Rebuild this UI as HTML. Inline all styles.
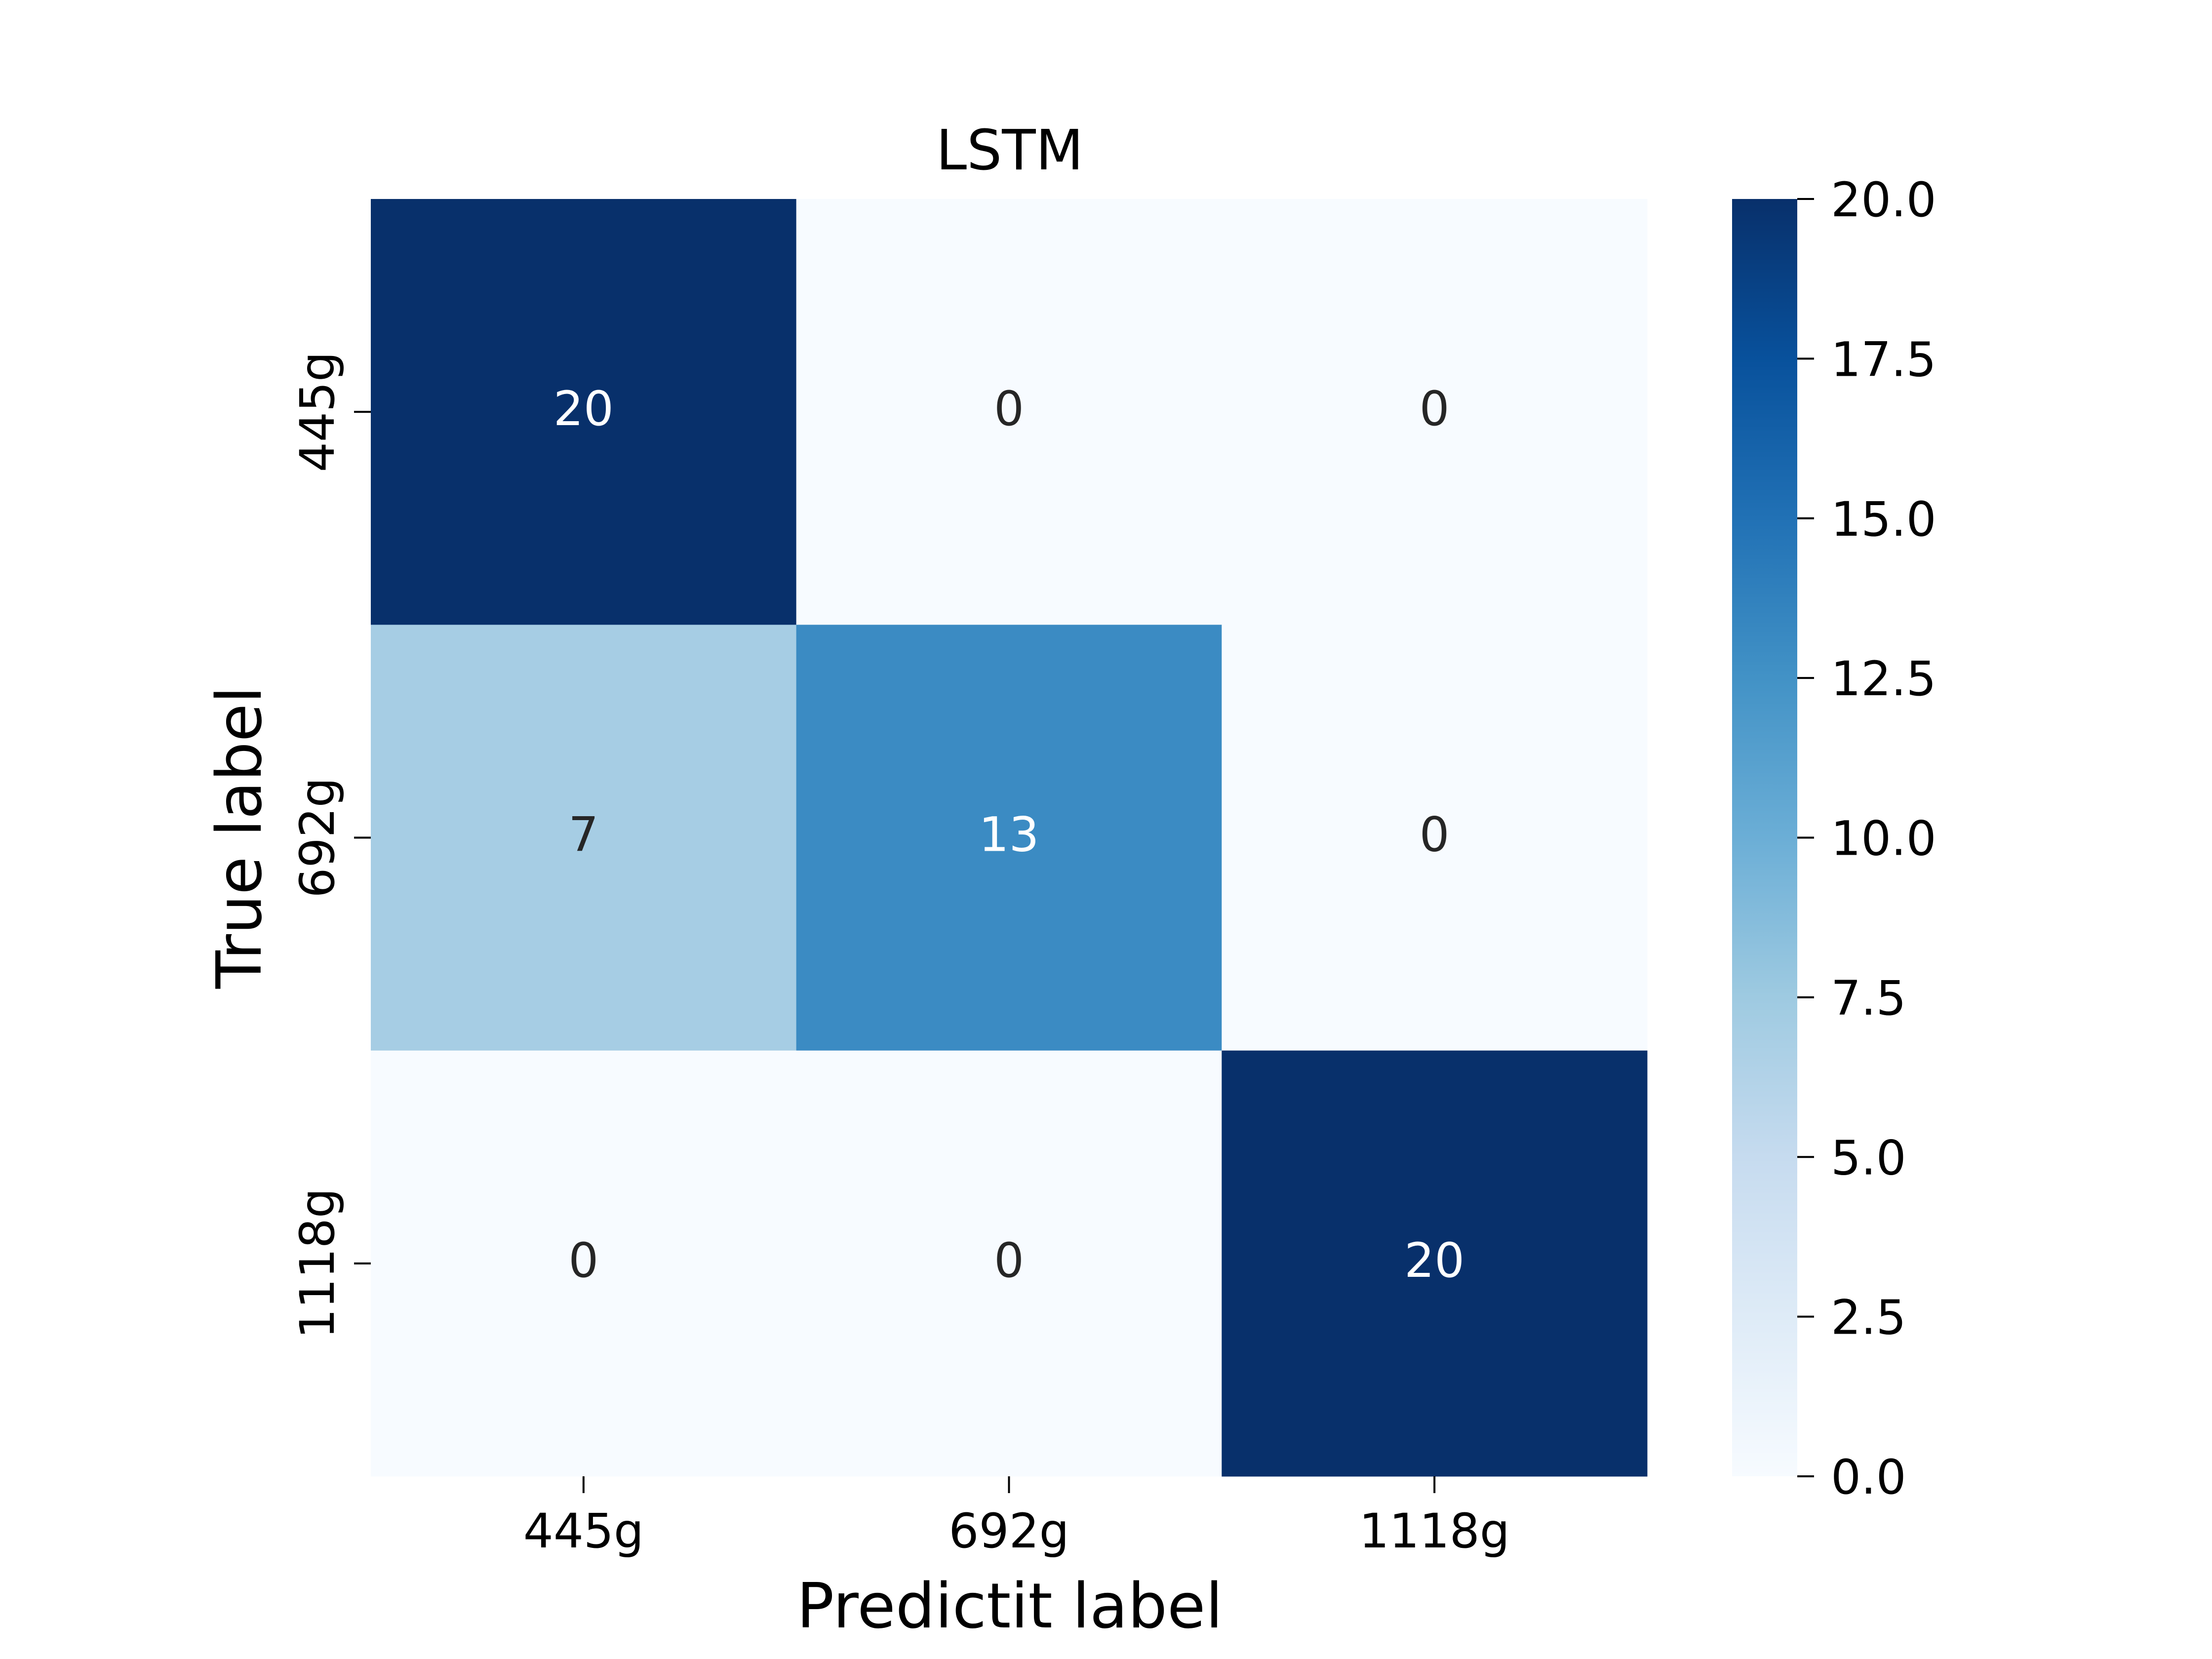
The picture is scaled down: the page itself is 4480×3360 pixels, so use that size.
<!DOCTYPE html>
<html><head><meta charset="utf-8"><style>
html,body{margin:0;padding:0;background:#fff;}
svg{display:block;font-family:"DejaVu Sans","Liberation Sans",sans-serif;}
</style></head><body>
<svg id="chart" width="4480" height="3360" viewBox="0 0 4480 3360" xmlns="http://www.w3.org/2000/svg">
<rect width="4480" height="3360" fill="#fff"/>
<defs><linearGradient id="cbg" x1="0" y1="1" x2="0" y2="0">
<stop offset="0" stop-color="#f7fbff"/><stop offset="0.125" stop-color="#deebf7"/><stop offset="0.25" stop-color="#c6dbef"/><stop offset="0.375" stop-color="#9ecae1"/><stop offset="0.5" stop-color="#6baed6"/><stop offset="0.625" stop-color="#4292c6"/><stop offset="0.75" stop-color="#2171b5"/><stop offset="0.875" stop-color="#08519c"/><stop offset="1" stop-color="#08306b"/></linearGradient></defs>
<g id="cells"></g>
<g id="axes"></g>
<rect x="3508" y="403" width="132" height="2587" fill="url(#cbg)"/>
<g id="cbar"></g>
<text x="2045" y="343" font-size="112" text-anchor="middle">LSTM</text>
<text x="2045" y="3296" font-size="126" text-anchor="middle">Predictit label</text>
<text transform="translate(528,1696) rotate(-90)" font-size="126" text-anchor="middle">True label</text>
</svg>
<script>
const categories = ["445g", "692g", "1118g"];
const row0 = [20, 0, 0];
const row1 = [7, 13, 0];
const row2 = [0, 0, 20];
const cbTicks = [0, 2.5, 5, 7.5, 10, 12.5, 15, 17.5, 20];
const cbTickLabels = ["0.0","2.5","5.0","7.5","10.0","12.5","15.0","17.5","20.0"];
const vmin = 0, vmax = 20;
const matrix = [row0, row1, row2];
const NS = "http://www.w3.org/2000/svg";
const L = 751, R = 3336, T = 403, B = 2990;
const cw = (R - L) / categories.length, ch = (B - T) / categories.length;
const xPos = i => L + i * cw, yPos = j => T + j * ch;
const stops = ["#f7fbff","#deebf7","#c6dbef","#9ecae1","#6baed6","#4292c6","#2171b5","#08519c","#08306b"].map(h=>[1,3,5].map(k=>parseInt(h.substr(k,2),16)));
function color(v){
  let t=(v-vmin)/(vmax-vmin)*(stops.length-1); t=Math.max(0,Math.min(stops.length-1,t));
  const i=Math.min(Math.floor(t),stops.length-2), f=t-i;
  const c=stops[i].map((a,k)=>Math.round(a+(stops[i+1][k]-a)*f));
  return {css:`rgb(${c[0]},${c[1]},${c[2]})`, lum:(0.299*c[0]+0.587*c[1]+0.114*c[2])/255};
}
function mk(tag, attrs, parent){const e=document.createElementNS(NS,tag);for(const k in attrs)e.setAttribute(k,attrs[k]);parent.appendChild(e);return e;}
const cells=document.getElementById('cells');
matrix.forEach((row,j)=>row.forEach((v,i)=>{
  const c=color(v);
  const r=mk('rect',{x:xPos(i),y:yPos(j),width:cw+0.5,height:ch+0.5,fill:c.css},cells);
  
  
  const t=mk('text',{x:xPos(i)+cw/2,y:yPos(j)+ch/2+27,'font-size':96,'text-anchor':'middle',fill:c.lum<0.55?'#fff':'#262626'},cells);
  t.textContent=v;
  
  
}));
const axes=document.getElementById('axes');
categories.forEach((c,i)=>{
  const x=xPos(i)+cw/2;
  const tk=mk('line',{x1:x,x2:x,y1:B,y2:B+34,stroke:'#000','stroke-width':4},axes);
  
  
  const tl=mk('text',{x:x,y:3134,'font-size':96,'text-anchor':'middle'},axes);
  tl.textContent=c;
  
  
  const y=yPos(i)+ch/2;
  const yk=mk('line',{x1:L-34,x2:L,y1:y,y2:y,stroke:'#000','stroke-width':4},axes);
  
  
  const yl=mk('text',{transform:`translate(676,${y}) rotate(-90)`,'font-size':96,'text-anchor':'middle'},axes);
  yl.textContent=c;
  
  
});
const cb=document.getElementById('cbar');
cbTicks.forEach((v,i)=>{
  const y=B-(v-vmin)/(vmax-vmin)*(B-T);
  const k=mk('line',{x1:3640,x2:3674,y1:y,y2:y,stroke:'#000','stroke-width':4},cb);
  
  
  const t=mk('text',{x:3708,y:y+35,'font-size':96},cb);
  t.textContent=cbTickLabels[i];
  
  
});
</script>
</body></html>
